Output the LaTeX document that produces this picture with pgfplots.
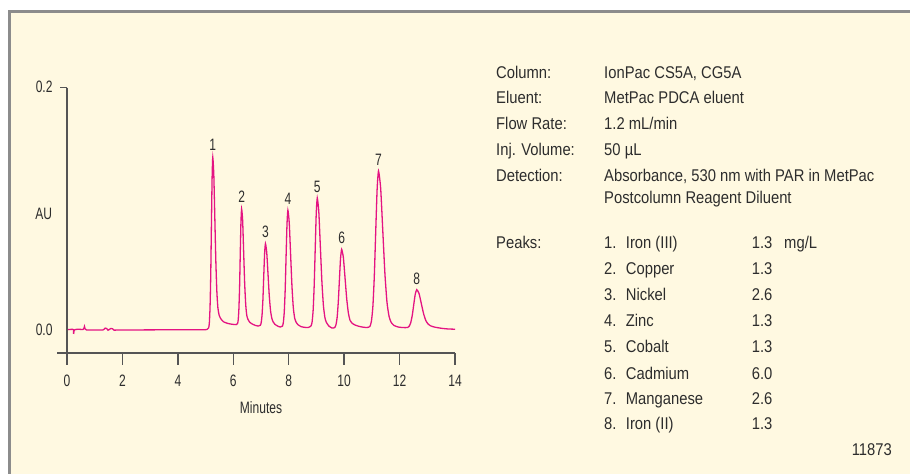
\documentclass[border=0pt]{standalone}
\usepackage{pgfplots}
\pgfplotsset{compat=1.18}
\usepackage{fontspec}
\setmainfont{Liberation Sans}[FakeStretch=0.87]
\newfontfamily\chartfont{Liberation Sans}[FakeStretch=0.73]
\definecolor{cream}{RGB}{255,249,225}
\definecolor{framecol}{RGB}{140,140,140}
\definecolor{trace}{RGB}{228,20,130}
\definecolor{txt}{RGB}{45,45,45}
\definecolor{axcol}{RGB}{85,85,85}
\newcommand{\rt}{\fontsize{17bp}{20bp}\selectfont}
\newcommand{\ct}{\chartfont\fontsize{16.5bp}{19bp}\selectfont}
\begin{document}
\begin{tikzpicture}
\useasboundingbox (0,0) rectangle (910bp,474bp);
\fill[white] (0,0) rectangle (910bp,474bp);
\fill[cream] (11bp,0) rectangle (910bp,461bp);
\fill[framecol] (8bp,0) rectangle (11bp,464bp);
\fill[framecol] (8bp,461bp) rectangle (910bp,464bp);
\begin{axis}[at={(57.3bp,121bp)}, anchor=south west, scale only axis,
  width=399.1bp, height=265.3bp, xmin=-0.35, xmax=14.05, ymin=-0.01926, ymax=0.2,
  axis line style={draw=none}, xtick=\empty, ytick=\empty, clip=false]
\addplot[trace, line width=1.3bp, smooth, tension=0.35] coordinates {
(0,0.0000)(0.1,0.0002)(0.2,0.0003)(0.23,0.0001)(0.24,-0.0035)(0.255,-0.0008)(0.3,0.0002)
(0.45,0.0003)(0.58,0.0002)(0.61,0.0012)(0.63,0.0027)(0.65,0.0008)(0.7,-0.0002)
(1.0,-0.0002)(1.3,-0.0002)(1.38,0.0013)(1.43,0.0010)(1.48,-0.0004)(1.53,0.0002)
(1.58,0.0010)(1.64,0.0008)(1.7,-0.0004)(1.8,-0.0003)(2.5,-0.0002)(3.5,-0.0001)
(4.5,-0.0001)(5.0,0.0000)(5.06,0.0003)
(5.113,0.0016)(5.138,0.0063)(5.162,0.0192)(5.187,0.0463)(5.211,0.0865)(5.236,0.1257)(5.26,0.1425)
(5.297,0.128)(5.334,0.092)(5.371,0.056)(5.408,0.031)(5.445,0.018)(5.49,0.012)(5.55,0.009)
(5.65,0.0065)(5.8,0.0052)(5.95,0.0045)(6.1,0.0042)
(6.153,0.005)(6.178,0.0082)(6.202,0.017)(6.227,0.0352)(6.251,0.0623)(6.276,0.0887)(6.30,0.0998)
(6.337,0.0905)(6.374,0.064)(6.411,0.038)(6.448,0.021)(6.485,0.012)(6.53,0.0085)(6.6,0.006)
(6.7,0.0045)(6.8,0.0035)(6.9,0.003)
(6.977,0.0037)(7.008,0.006)(7.038,0.0122)(7.069,0.0251)(7.099,0.0443)(7.13,0.063)(7.16,0.0711)
(7.206,0.064)(7.252,0.0463)(7.298,0.0281)(7.344,0.0157)(7.39,0.0095)(7.436,0.0065)(7.5,0.0045)
(7.6,0.003)(7.7,0.0022)
(7.775,0.003)(7.808,0.0063)(7.84,0.0151)(7.873,0.0334)(7.905,0.0607)(7.938,0.0873)(7.97,0.0987)
(8.019,0.0883)(8.067,0.0627)(8.116,0.0364)(8.164,0.0186)(8.213,0.0098)(8.26,0.0065)(8.33,0.0042)
(8.45,0.0025)(8.55,0.002)(8.7,0.0018)
(8.808,0.0032)(8.845,0.0067)(8.882,0.0164)(8.919,0.0367)(8.956,0.0668)(8.993,0.0962)(9.03,0.1088)
(9.086,0.0972)(9.141,0.0688)(9.197,0.0397)(9.252,0.0199)(9.308,0.0097)(9.36,0.006)(9.45,0.003)
(9.55,0.0015)(9.62,0.0014)
(9.664,0.0019)(9.705,0.0041)(9.746,0.01)(9.787,0.0224)(9.828,0.0408)(9.869,0.0587)(9.91,0.0664)
(9.971,0.0597)(10.032,0.0428)(10.093,0.0254)(10.154,0.0135)(10.215,0.0076)(10.28,0.0055)
(10.38,0.004)(10.5,0.003)(10.65,0.0022)(10.8,0.0018)(10.88,0.002)
(10.934,0.0029)(10.985,0.0072)(11.036,0.019)(11.087,0.0436)(11.138,0.0802)(11.189,0.1158)(11.24,0.1311)
(11.317,0.117)(11.393,0.0822)(11.47,0.0466)(11.546,0.0225)(11.623,0.0107)(11.7,0.0059)(11.8,0.0035)
(11.95,0.0022)(12.1,0.0018)(12.2,0.0017)
(12.293,0.0018)(12.348,0.0029)(12.402,0.0058)(12.457,0.0118)(12.511,0.0207)(12.566,0.0294)(12.62,0.0331)
(12.702,0.0299)(12.783,0.0217)(12.865,0.0133)(12.946,0.0076)(13.028,0.0047)(13.11,0.0033)
(13.25,0.0022)(13.5,0.0012)(13.75,0.0006)(14.0,0.0004)
};
% axis lines and ticks
\draw[axcol, line width=1.4bp] (axis cs:-0.35,-0.01926) -- (axis cs:14,-0.01926);
\draw[axcol, line width=1.4bp] (axis cs:0,0.2) -- (axis cs:0,-0.01926) -- ++(0pt,-12bp);
\draw[axcol, line width=1.4bp] (axis cs:0,0.2) -- ++(-7bp,0pt);
\draw[axcol, line width=1.4bp] (axis cs:2,-0.01926) -- ++(0pt,-12bp);
\draw[axcol, line width=1.4bp] (axis cs:4,-0.01926) -- ++(0pt,-12bp);
\draw[axcol, line width=1.4bp] (axis cs:6,-0.01926) -- ++(0pt,-12bp);
\draw[axcol, line width=1.4bp] (axis cs:8,-0.01926) -- ++(0pt,-12bp);
\draw[axcol, line width=1.4bp] (axis cs:10,-0.01926) -- ++(0pt,-12bp);
\draw[axcol, line width=1.4bp] (axis cs:12,-0.01926) -- ++(0pt,-12bp);
\draw[axcol, line width=1.4bp] (axis cs:14,-0.01926) -- ++(0pt,-12bp);
% tick labels
\node[anchor=base, txt, font=\ct, yshift=-34bp] at (axis cs:0,-0.01926) {0};
\node[anchor=base, txt, font=\ct, yshift=-34bp] at (axis cs:2,-0.01926) {2};
\node[anchor=base, txt, font=\ct, yshift=-34bp] at (axis cs:4,-0.01926) {4};
\node[anchor=base, txt, font=\ct, yshift=-34bp] at (axis cs:6,-0.01926) {6};
\node[anchor=base, txt, font=\ct, yshift=-34bp] at (axis cs:8,-0.01926) {8};
\node[anchor=base, txt, font=\ct, yshift=-34bp] at (axis cs:10,-0.01926) {10};
\node[anchor=base, txt, font=\ct, yshift=-34bp] at (axis cs:12,-0.01926) {12};
\node[anchor=base, txt, font=\ct, yshift=-34bp] at (axis cs:14,-0.01926) {14};
\node[anchor=base, txt, font=\ct, yshift=-60.3bp] at (axis cs:7,-0.01926) {Minutes};
\node[anchor=base east, txt, font=\ct, inner sep=0pt, xshift=-14.3bp, yshift=-5bp] at (axis cs:0,0.2) {0.2};
\node[anchor=base east, txt, font=\ct, inner sep=0pt, xshift=-14.3bp, yshift=-5.6bp] at (axis cs:0,0) {0.0};
\node[anchor=base east, txt, font=\ct, inner sep=0pt, xshift=-14.7bp] at (axis cs:0,0.0907) {AU};
% peak labels
\node[anchor=base, txt, font=\ct, inner sep=0pt, yshift=6.5bp] at (axis cs:5.26,0.1425) {1};
\node[anchor=base, txt, font=\ct, inner sep=0pt, yshift=6bp] at (axis cs:6.30,0.0998) {2};
\node[anchor=base, txt, font=\ct, inner sep=0pt, yshift=6bp] at (axis cs:7.16,0.0711) {3};
\node[anchor=base, txt, font=\ct, inner sep=0pt, yshift=6bp] at (axis cs:7.97,0.0987) {4};
\node[anchor=base, txt, font=\ct, inner sep=0pt, yshift=6bp] at (axis cs:9.03,0.1088) {5};
\node[anchor=base, txt, font=\ct, inner sep=0pt, yshift=6bp] at (axis cs:9.91,0.0664) {6};
\node[anchor=base, txt, font=\ct, inner sep=0pt, yshift=5.5bp] at (axis cs:11.24,0.1311) {7};
\node[anchor=base, txt, font=\ct, inner sep=0pt, yshift=5.5bp] at (axis cs:12.62,0.0331) {8};
\end{axis}
% right-hand text
\begin{scope}[every node/.style={txt, font=\rt, inner sep=0pt}]
\node[anchor=base west] at (496bp,395.7bp) {Column:};
\node[anchor=base west] at (496bp,370.7bp) {Eluent:};
\node[anchor=base west] at (496bp,344.7bp) {Flow Rate:};
\node[anchor=base west] at (496bp,318bp) {Inj. Volume:};
\node[anchor=base west] at (496bp,292.3bp) {Detection:};
\node[anchor=base west] at (496bp,225.7bp) {Peaks:};
\node[anchor=base west] at (604bp,395.7bp) {IonPac CS5A, CG5A};
\node[anchor=base west] at (604bp,370.7bp) {MetPac PDCA eluent};
\node[anchor=base west] at (604bp,344.7bp) {1.2 mL/min};
\node[anchor=base west] at (604bp,318bp) {50 µL};
\node[anchor=base west] at (604bp,292.3bp) {Absorbance, 530 nm with PAR in MetPac};
\node[anchor=base west] at (604bp,270.7bp) {Postcolumn Reagent Diluent};
\node[anchor=base west] at (604bp,225.7bp) {1.};
\node[anchor=base west] at (604bp,199bp) {2.};
\node[anchor=base west] at (604bp,173.3bp) {3.};
\node[anchor=base west] at (604bp,147.3bp) {4.};
\node[anchor=base west] at (604bp,121.3bp) {5.};
\node[anchor=base west] at (604bp,94.7bp) {6.};
\node[anchor=base west] at (604bp,69bp) {7.};
\node[anchor=base west] at (604bp,44bp) {8.};
\node[anchor=base west] at (625.7bp,225.7bp) {Iron (III)};
\node[anchor=base west] at (625.7bp,199bp) {Copper};
\node[anchor=base west] at (625.7bp,173.3bp) {Nickel};
\node[anchor=base west] at (625.7bp,147.3bp) {Zinc};
\node[anchor=base west] at (625.7bp,121.3bp) {Cobalt};
\node[anchor=base west] at (625.7bp,94.7bp) {Cadmium};
\node[anchor=base west] at (625.7bp,69bp) {Manganese};
\node[anchor=base west] at (625.7bp,44bp) {Iron (II)};
\node[anchor=base west] at (751.7bp,225.7bp) {1.3};
\node[anchor=base west] at (751.7bp,199bp) {1.3};
\node[anchor=base west] at (751.7bp,173.3bp) {2.6};
\node[anchor=base west] at (751.7bp,147.3bp) {1.3};
\node[anchor=base west] at (751.7bp,121.3bp) {1.3};
\node[anchor=base west] at (751.7bp,94.7bp) {6.0};
\node[anchor=base west] at (751.7bp,69bp) {2.6};
\node[anchor=base west] at (751.7bp,44bp) {1.3};
\node[anchor=base west] at (784bp,225.7bp) {mg/L};
\node[anchor=base east] at (892bp,18.7bp) {11873};
\end{scope}
\end{tikzpicture}
\end{document}
